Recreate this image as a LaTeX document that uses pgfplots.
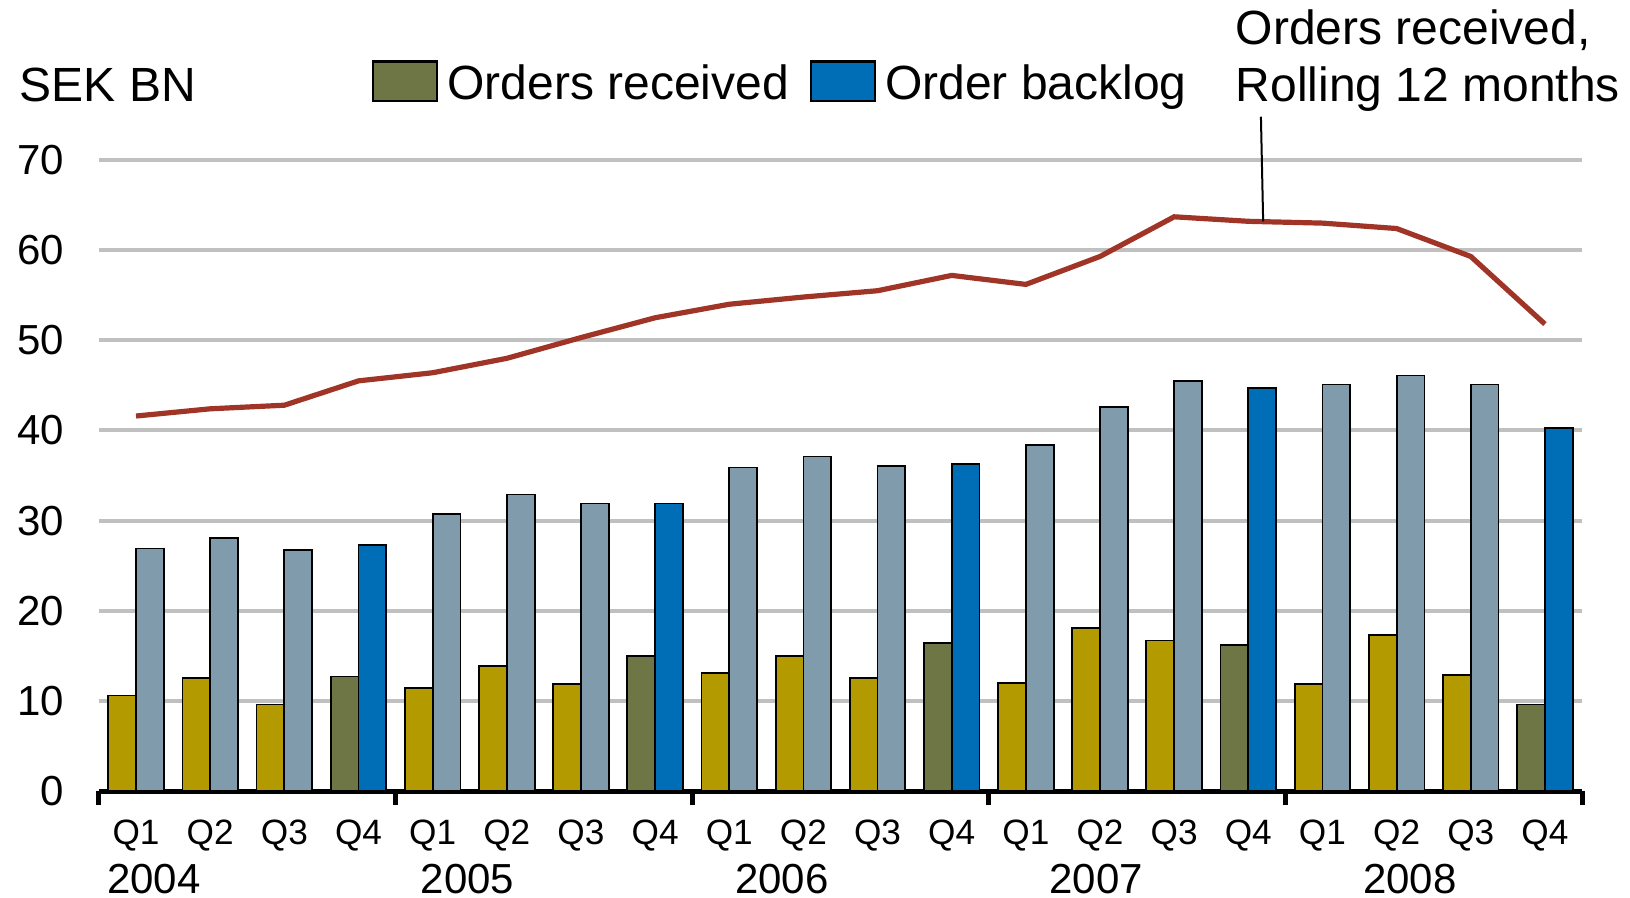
\documentclass[border=0pt]{standalone}
\usepackage{pgfplots}
\pgfplotsset{compat=1.18}
\usepackage{fontspec}
\setmainfont{Liberation Sans}

\definecolor{cgold}{RGB}{178,154,0}
\definecolor{colive}{RGB}{111,118,70}
\definecolor{cgrey}{RGB}{127,155,172}
\definecolor{cblue}{RGB}{0,110,182}
\definecolor{cred}{RGB}{160,52,38}
\definecolor{cgrid}{RGB}{192,192,192}

\begin{document}
\begin{tikzpicture}
\begin{axis}[
  width=370.75pt, height=157.75pt, scale only axis,
  xmin=-0.5, xmax=19.5, ymin=0, ymax=70,
  axis x line*=bottom, axis y line*=left,
  x axis line style={-, line width=1.25pt},
  y axis line style={draw=none},
  ytick={0,10,...,70},
  ymajorgrids, grid style={line width=1pt, cgrid},
  ytick style={draw=none},
  xtick={0,...,19},
  xticklabels={Q1,Q2,Q3,Q4,Q1,Q2,Q3,Q4,Q1,Q2,Q3,Q4,Q1,Q2,Q3,Q4,Q1,Q2,Q3,Q4},
  minor xtick={-0.5,3.5,...,19.5},
  tick align=outside,
  major tick length=0pt, minor tick length=3.5pt,
  every tick/.style={black, line width=1.25pt},
  xticklabel style={anchor=base, yshift=-13.25pt, font=\fontsize{8.8}{10}\selectfont},
  yticklabel style={anchor=east, inner sep=0pt, xshift=-8.6pt, font=\fontsize{10.5}{12}\selectfont},
  /pgf/number format/assume math mode=true,
  clip=false,
  legend columns=2,
  legend style={at={(axis description cs:0.1834,1.1225)}, anchor=west, draw=none, fill=none,
    inner sep=0pt, font=\fontsize{12}{14}\selectfont,
    nodes={inner xsep=2.3pt, inner ysep=0pt},
    /tikz/every odd column/.append style={column sep=0pt},
    /tikz/every even column/.append style={column sep=2.9pt}},
]
% orders received, Q1-Q3
\addplot[ybar, bar width=0.375, bar shift=-0.1875, fill=cgold, draw=black, line width=0.45pt, forget plot]
  coordinates {(0,10.6)(1,12.5)(2,9.6)(4,11.4)(5,13.9)(6,11.9)(8,13.1)(9,15.0)(10,12.5)
               (12,12.0)(13,18.1)(14,16.7)(16,11.9)(17,17.3)(18,12.9)};
% order backlog, Q1-Q3
\addplot[ybar, bar width=0.375, bar shift=0.1875, fill=cgrey, draw=black, line width=0.45pt, forget plot]
  coordinates {(0,26.9)(1,28.1)(2,26.7)(4,30.7)(5,32.9)(6,31.9)(8,35.9)(9,37.1)(10,36.1)
               (12,38.4)(13,42.6)(14,45.5)(16,45.1)(17,46.1)(18,45.1)};
% Q4
\addplot[ybar, bar width=0.375, bar shift=-0.1875, fill=colive, draw=black, line width=0.45pt,
  legend image code/.code={\draw[fill=colive, draw=black, line width=0.6pt] (0pt,-4.1pt) rectangle (16pt,5.8pt);}]
  coordinates {(3,12.7)(7,15.0)(11,16.4)(15,16.2)(19,9.6)};
\addlegendentry{Orders received}
\addplot[ybar, bar width=0.375, bar shift=0.1875, fill=cblue, draw=black, line width=0.45pt,
  legend image code/.code={\draw[fill=cblue, draw=black, line width=0.6pt] (0pt,-4.1pt) rectangle (16pt,5.8pt);}]
  coordinates {(3,27.3)(7,31.9)(11,36.3)(15,44.7)(19,40.3)};
\addlegendentry{Order backlog}
% rolling 12 months
\addplot[cred, line width=1.3pt, mark=none, forget plot]
  coordinates {(0,41.6)(1,42.4)(2,42.8)(3,45.5)(4,46.4)(5,48.0)(6,50.3)(7,52.5)(8,54.0)(9,54.8)
               (10,55.5)(11,57.2)(12,56.2)(13,59.3)(14,63.7)(15,63.2)(16,63.0)(17,62.4)(18,59.3)(19,51.8)};

% text and frame
\path (axis description cs:-0.06676,-0.168) rectangle (axis description cs:1.03237,1.2536);
\node[anchor=base west, inner sep=0pt, font=\fontsize{12}{14}\selectfont] at (axis description cs:-0.0539,1.0935) {SEK BN};
\node[anchor=base west, inner sep=0pt, font=\fontsize{12}{14}\selectfont] at (axis description cs:0.766,1.1838) {Orders received,};
\node[anchor=base west, inner sep=0pt, font=\fontsize{12}{14}\selectfont] at (axis description cs:0.766,1.0935) {Rolling 12 months};
\draw[black, line width=0.5pt] (axis cs:15.2,63.2) -- (axis cs:15.17,74.8);
\node[anchor=base, inner sep=0pt, yshift=-25.5pt, font=\fontsize{10.5}{12}\selectfont] at (axis cs:0.24,0) {2004};
\node[anchor=base, inner sep=0pt, yshift=-25.5pt, font=\fontsize{10.5}{12}\selectfont] at (axis cs:4.47,0) {2005};
\node[anchor=base, inner sep=0pt, yshift=-25.5pt, font=\fontsize{10.5}{12}\selectfont] at (axis cs:8.71,0) {2006};
\node[anchor=base, inner sep=0pt, yshift=-25.5pt, font=\fontsize{10.5}{12}\selectfont] at (axis cs:12.95,0) {2007};
\node[anchor=base, inner sep=0pt, yshift=-25.5pt, font=\fontsize{10.5}{12}\selectfont] at (axis cs:17.18,0) {2008};
\end{axis}
\end{tikzpicture}
\end{document}
